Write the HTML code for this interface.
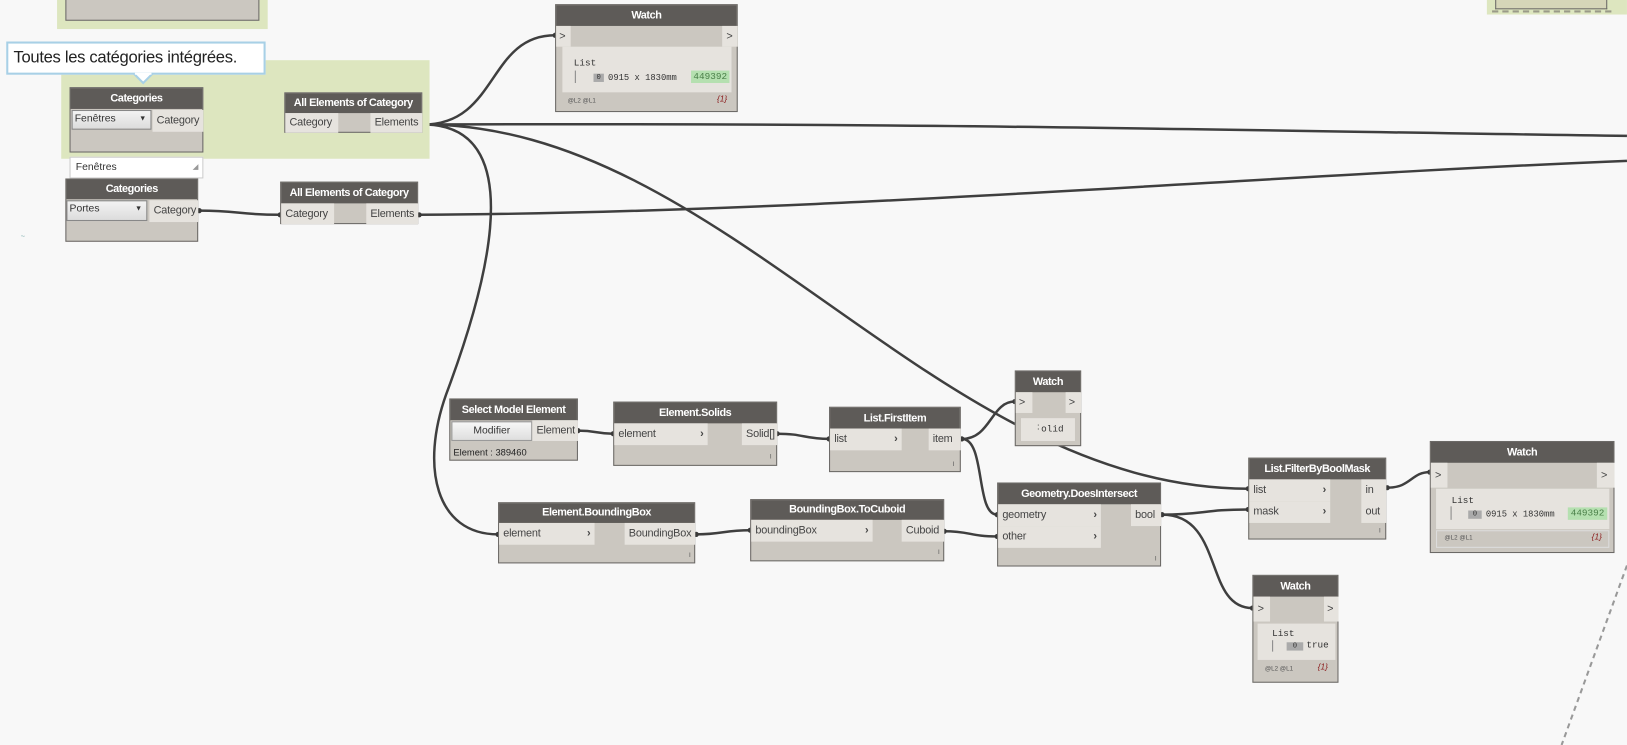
<!DOCTYPE html>
<html><head><meta charset="utf-8"><style>
html,body{margin:0;padding:0;background:#f8f8f8;overflow:hidden;width:1627px;height:745px}
#c{position:absolute;left:0;top:0;width:1568px;height:718px;transform-origin:0 0;transform:scale(1.0376,1.0376);font-family:"Liberation Sans",sans-serif;font-size:10.5px;color:#333}
.a{position:absolute;box-sizing:border-box}
.n{position:absolute;background:#cbc7c0;border:1px solid #6b6966;box-sizing:border-box}
.h{position:absolute;left:0;right:0;top:0;background:#5e5b58;color:#fff;font-weight:bold;text-align:center;font-size:10.5px;letter-spacing:-0.4px;line-height:20px;height:20px;white-space:nowrap}
.p{position:absolute;background:#e6e3de;line-height:21px;padding:0 4px;box-sizing:border-box;white-space:nowrap;color:#444;letter-spacing:-0.2px}
.ar{position:absolute;right:4px;top:0;font-weight:bold}
.g{position:absolute;background:#dde6bf}
.mono{font-family:"Liberation Mono",monospace;font-size:9px}
.ft{font-size:6px;color:#555}
</style></head><body><div id="c">
<svg class="a" style="left:0;top:0" width="1568" height="718">
<g fill="none" stroke="#3f3f3f" stroke-width="2.4">
<path d="M197,117 C235,117 235,121 274,121"/>
<path d="M192,203 C230,203 230,207 270,207"/>
<path d="M408,120 C480,120 470,34 535,34"/>
<path d="M408,120 C900,118 1200,126 1568,131"/>
<path d="M408,120 C520,120 460,300 430,380 C405,450 420,515 480,515"/>
<path d="M408,120 C700,120 900,470 1203,471"/>
<path d="M404,207 C800,205 1200,170 1568,155"/>
<path d="M557,415 C575,415 575,418 591,418"/>
<path d="M749,418 C775,418 775,423 799,423"/>
<path d="M927,423 C955,423 955,387 978,387"/>
<path d="M927,423 C950,423 940,496 961,496"/>
<path d="M671,515 C697,515 697,511 723,511"/>
<path d="M910,512 C935,512 935,517 961,517"/>
<path d="M1120,496 C1160,496 1160,491 1203,491"/>
<path d="M1120,496 C1180,496 1160,586 1207,586"/>
<path d="M1337,470 C1360,470 1360,455 1378,455"/>
</g>
<g fill="#3a3a3a">
<circle cx="197" cy="117" r="2.5"/><circle cx="274" cy="121" r="2.5"/><circle cx="192" cy="203" r="2.5"/><circle cx="270" cy="207" r="2.5"/>
<circle cx="408" cy="120" r="2.5"/><circle cx="404" cy="207" r="2.5"/><circle cx="535" cy="34" r="2.5"/><circle cx="480" cy="515" r="2.5"/>
<circle cx="557" cy="415" r="2.5"/><circle cx="591" cy="418" r="2.5"/><circle cx="749" cy="418" r="2.5"/><circle cx="799" cy="423" r="2.5"/>
<circle cx="927" cy="423" r="2.5"/><circle cx="978" cy="387" r="2.5"/><circle cx="961" cy="496" r="2.5"/><circle cx="961" cy="517" r="2.5"/>
<circle cx="671" cy="515" r="2.5"/><circle cx="723" cy="511" r="2.5"/><circle cx="910" cy="512" r="2.5"/><circle cx="1120" cy="496" r="2.5"/>
<circle cx="1203" cy="471" r="2.5"/><circle cx="1203" cy="491" r="2.5"/><circle cx="1207" cy="586" r="2.5"/><circle cx="1337" cy="470" r="2.5"/><circle cx="1378" cy="455" r="2.5"/>
</g>
<path d="M1568,545 L1505,718" stroke="#999" stroke-width="2" stroke-dasharray="5,4" fill="none"/>
</svg>

<div class="g" style="left:55px;top:0;width:203px;height:28px"></div>
<div class="n" style="left:63px;top:-2px;width:187px;height:22px"></div>
<div class="g" style="left:1433px;top:0;width:135px;height:14px"></div>
<div class="a" style="left:1441px;top:0;width:108px;height:9px;border:1px solid #6b6966;border-top:0;background:#d6d6b8"></div>
<div class="a" style="left:1438px;top:10px;width:115px;height:0;border-top:2px dashed #9a9a88"></div>

<div class="g" style="left:59px;top:58px;width:355px;height:95px"></div>
<div class="a" style="left:6px;top:40px;width:250px;height:32px;background:#fff;border:2px solid #a8d0e6;font-size:16px;line-height:28px;padding-left:5px;color:#222;letter-spacing:-0.3px">Toutes les catégories intégrées.</div>
<svg class="a" style="left:128px;top:70px" width="22" height="12"><path d="M1,1 L10,10 L19,1" fill="#fff" stroke="#a8d0e6" stroke-width="2"/><rect x="2" y="0" width="16" height="2" fill="#fff"/></svg>

<div class="n" style="left:67px;top:84px;width:129px;height:63px"><div class="h">Categories</div>
<div class="a" style="left:1px;top:21px;width:77px;height:19px;background:linear-gradient(#f3f3f3,#dcdcdc);border:1px solid #888;font-size:10px;padding-left:2px;line-height:15px">Fenêtres<span style="position:absolute;right:4px;font-size:7px">▼</span></div>
<div class="p" style="left:79px;top:21px;width:49px">Category</div></div>
<div class="a" style="left:67px;top:151px;width:129px;height:21px;background:#fff;border:1px solid #ccc;font-size:10px;line-height:19px;padding-left:5px">Fenêtres<span style="position:absolute;right:4px;color:#999;font-size:7px">◢</span></div>
<div class="n" style="left:63px;top:172px;width:128px;height:61px"><div class="h" style="height:19px;line-height:19px">Categories</div>
<div class="a" style="left:0;top:20px;width:78px;height:20px;background:linear-gradient(#f3f3f3,#dcdcdc);border:1px solid #888;font-size:10px;padding-left:2px;line-height:15px">Portes<span style="position:absolute;right:4px;font-size:7px">▼</span></div>
<div class="p" style="left:80px;top:20px;width:47px">Category</div></div>

<div class="n" style="left:274px;top:89px;width:133px;height:39px"><div class="h" style="height:19px;line-height:19px">All Elements of Category</div>
<div class="p" style="left:0;top:19px;width:51px;height:19px;line-height:19px">Category</div>
<div class="p" style="left:82px;top:19px;width:50px;height:19px;line-height:19px">Elements</div></div>
<div class="n" style="left:270px;top:175px;width:133px;height:41px"><div class="h" style="height:20px;line-height:20px">All Elements of Category</div>
<div class="p" style="left:0;top:20px;width:51px;height:20px;line-height:20px">Category</div>
<div class="p" style="left:82px;top:20px;width:50px;height:20px;line-height:20px">Elements</div></div>

<div class="n" style="left:535px;top:4px;width:176px;height:104px"><div class="h">Watch</div>
<div class="p" style="left:0;top:20px;width:14px;height:20px;line-height:20px;padding:0 3px">&gt;</div>
<div class="p" style="left:160px;top:20px;width:15px;height:20px;line-height:20px;padding:0 4px">&gt;</div>
<div class="a" style="left:6px;top:40px;width:163px;height:44px;background:#e6e3de"></div>
<div class="a mono" style="left:17px;top:51px">List</div>
<div class="a" style="left:18px;top:63px;width:1px;height:12px;background:#888"></div>
<div class="a mono" style="left:36px;top:66px;width:10px;height:8px;background:#aaa;font-size:7px;line-height:8px;text-align:center">0</div>
<div class="a mono" style="left:50px;top:65px;font-size:8.5px">0915 x 1830mm</div>
<div class="a mono" style="left:130px;top:63px;width:37px;height:12px;background:#b5e0b0;color:#4a7f48;line-height:12px;text-align:center">449392</div>
<div class="a ft" style="left:11px;top:90px">@L2 @L1</div>
<div class="a" style="left:155px;top:86px;color:#8a1a1a;font-size:8px;font-style:italic">{1}</div></div>

<div class="n" style="left:433px;top:384px;width:124px;height:60px"><div class="h">Select Model Element</div>
<div class="a" style="left:1px;top:21px;width:78px;height:19px;background:linear-gradient(#f7f7f7,#dedede);border:1px solid #999;text-align:center;line-height:17px;font-size:10px">Modifier</div>
<div class="p" style="left:79px;top:20px;width:44px;height:20px;line-height:20px">Element</div>
<div class="a" style="left:3px;top:46px;font-size:9px;color:#222">Element : 389460</div></div>

<div class="n" style="left:591px;top:387px;width:158px;height:62px"><div class="h">Element.Solids</div>
<div class="p" style="left:0;top:20px;width:90px">element<span class="ar">›</span></div>
<div class="p" style="left:123px;top:20px;width:34px">Solid[]</div>
<div class="a ft" style="left:150px;top:50px">I</div></div>

<div class="n" style="left:799px;top:392px;width:127px;height:63px"><div class="h">List.FirstItem</div>
<div class="p" style="left:0;top:20px;width:69px">list<span class="ar">›</span></div>
<div class="p" style="left:95px;top:20px;width:31px">item</div>
<div class="a ft" style="left:118px;top:52px">I</div></div>

<div class="n" style="left:978px;top:357px;width:64px;height:73px"><div class="h">Watch</div>
<div class="p" style="left:0;top:20px;width:16px;height:20px;line-height:20px;padding:0 3px">&gt;</div>
<div class="p" style="left:48px;top:20px;width:15px;height:20px;line-height:20px;padding:0 3px">&gt;</div>
<div class="a mono" style="left:5px;top:45px;width:52px;height:22px;background:#e6e3de;line-height:22px;padding-left:14px;box-sizing:border-box">˸olid</div></div>

<div class="n" style="left:480px;top:484px;width:190px;height:59px"><div class="h" style="height:19px;line-height:19px">Element.BoundingBox</div>
<div class="p" style="left:0;top:19px;width:92px">element<span class="ar">›</span></div>
<div class="p" style="left:121px;top:19px;width:68px">BoundingBox</div>
<div class="a ft" style="left:183px;top:48px">I</div></div>

<div class="n" style="left:723px;top:481px;width:187px;height:60px"><div class="h" style="height:19px;line-height:19px">BoundingBox.ToCuboid</div>
<div class="p" style="left:0;top:19px;width:117px">boundingBox<span class="ar">›</span></div>
<div class="p" style="left:145px;top:19px;width:41px">Cuboid</div>
<div class="a ft" style="left:180px;top:48px">I</div></div>

<div class="n" style="left:961px;top:465px;width:158px;height:81px"><div class="h">Geometry.DoesIntersect</div>
<div class="p" style="left:0;top:20px;width:99px">geometry<span class="ar">›</span></div>
<div class="p" style="left:0;top:41px;width:99px">other<span class="ar">›</span></div>
<div class="p" style="left:128px;top:20px;width:29px">bool</div>
<div class="a ft" style="left:151px;top:70px">I</div></div>

<div class="n" style="left:1203px;top:441px;width:133px;height:79px"><div class="h">List.FilterByBoolMask</div>
<div class="p" style="left:0;top:20px;width:78px">list<span class="ar">›</span></div>
<div class="p" style="left:0;top:41px;width:78px">mask<span class="ar">›</span></div>
<div class="p" style="left:108px;top:20px;width:24px;height:42px">in<br>out</div>
<div class="a ft" style="left:125px;top:67px">I</div></div>

<div class="n" style="left:1378px;top:425px;width:178px;height:108px"><div class="h">Watch</div>
<div class="p" style="left:0;top:20px;width:16px;height:24px;line-height:24px;padding:0 4px">&gt;</div>
<div class="p" style="left:160px;top:20px;width:17px;height:24px;line-height:24px;padding:0 4px">&gt;</div>
<div class="a" style="left:5px;top:45px;width:167px;height:39px;background:#e6e3de"></div>
<div class="a mono" style="left:20px;top:52px">List</div>
<div class="a" style="left:19px;top:62px;width:1px;height:13px;background:#888"></div>
<div class="a mono" style="left:36px;top:66px;width:13px;height:8px;background:#aaa;font-size:7px;line-height:8px;text-align:center">0</div>
<div class="a mono" style="left:53px;top:65px;font-size:8.5px">0915 x 1830mm</div>
<div class="a mono" style="left:132px;top:63px;width:38px;height:12px;background:#b5e0b0;color:#4a7f48;line-height:12px;text-align:center">449392</div>
<div class="a" style="left:5px;top:85px;width:167px;height:17px;border:1px solid #ddd"></div>
<div class="a ft" style="left:13px;top:90px">@L2 @L1</div>
<div class="a" style="left:155px;top:87px;color:#8a1a1a;font-size:8px;font-style:italic">{1}</div></div>

<div class="n" style="left:1207px;top:554px;width:83px;height:104px"><div class="h">Watch</div>
<div class="p" style="left:0;top:20px;width:16px;height:24px;line-height:24px;padding:0 4px">&gt;</div>
<div class="p" style="left:68px;top:20px;width:14px;height:24px;line-height:24px;padding:0 3px">&gt;</div>
<div class="a" style="left:4px;top:46px;width:75px;height:35px;background:#e6e3de"></div>
<div class="a mono" style="left:18px;top:51px">List</div>
<div class="a" style="left:18px;top:62px;width:1px;height:11px;background:#888"></div>
<div class="a mono" style="left:32px;top:64px;width:16px;height:8px;background:#aaa;font-size:7px;line-height:8px;text-align:center">0</div>
<div class="a mono" style="left:51px;top:62px">true</div>
<div class="a ft" style="left:11px;top:87px">@L2 @L1</div>
<div class="a" style="left:62px;top:83px;color:#8a1a1a;font-size:8px;font-style:italic">{1}</div></div>

<div class="a" style="left:20px;top:225px;color:#7aa;font-size:7px">~</div>
</div></body></html>
